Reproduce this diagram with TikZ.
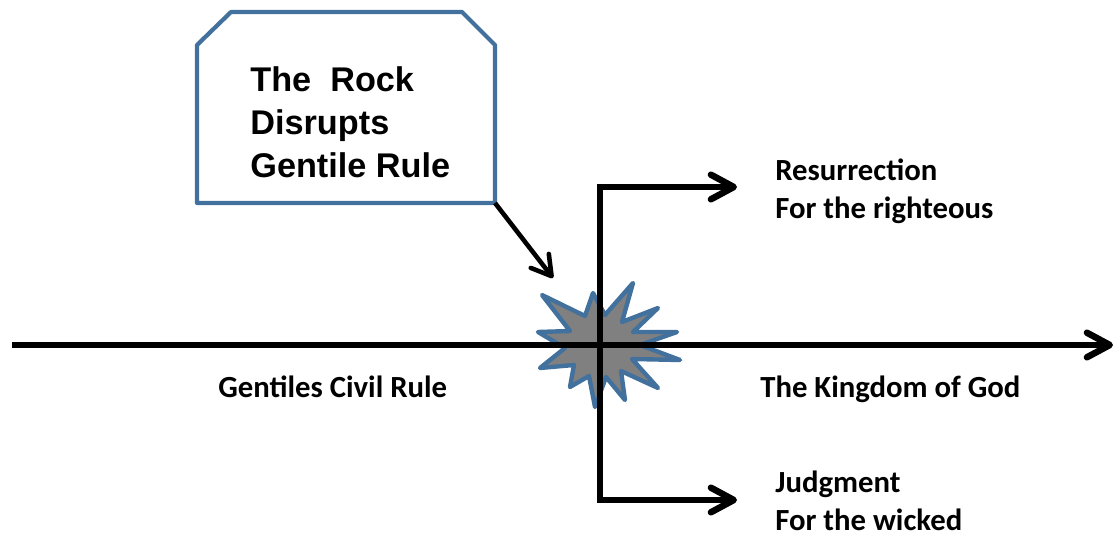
\documentclass[tikz,border=0pt]{standalone}
\usepackage{fontspec}
\setmainfont{Carlito}
\newfontfamily\boxfont{Liberation Sans}
\usepackage{tikz}
\usetikzlibrary{arrows.meta}
\definecolor{rockblue}{RGB}{65,113,156}
\definecolor{rockgray}{RGB}{128,128,128}

\begin{document}
\begin{tikzpicture}[x=0.02cm, y=-0.02cm]
    \tikzstyle{flow} = [line width=3.7pt, -{Straight Barb[length=13pt, width=14pt, round]}]
    \tikzstyle{hint} = [line width=2.6pt, -{Straight Barb[length=11pt, width=13pt, round]}]
    \tikzstyle{border} = [draw=rockblue, line width=2.4pt, line join=round, fill=white]
    \tikzstyle{tag} = [inner sep=0, align=left, font=\fontsize{17.5}{21.5}\selectfont\bfseries]
    \tikzstyle{boxtext} = [inner sep=0, align=left, anchor=west, font=\boxfont\fontsize{19.5}{24.5}\selectfont\bfseries]
    \useasboundingbox (0,0) rectangle (1117,537);

    \fill[rockgray, draw=rockblue, line width=2.5pt, line join=round]
        (542,295) -- (585,316) -- (593,293) -- (605,315) -- (633,283) -- (622,322)
        -- (658,308) -- (633,332) -- (677,332) -- (640,345) -- (680,360) -- (632,359)
        -- (658,388) -- (621,371) -- (625,400) -- (606,377) -- (595,407) -- (589,376)
        -- (570,387) -- (574,365) -- (540,368) -- (565,348) -- (538,332) -- (570,331) -- cycle;

    \coordinate (Hub) at (600,345);
    \coordinate (L) at (12,345);
    \coordinate (R) at (1113,345);
    \coordinate (Up) at (737,187);
    \coordinate (Down) at (737,500);
    \coordinate (Corner) at (495,203);
    \coordinate (Hit) at (553,278);

    \draw[border] (197,203) -- (197,45) -- (231,12) -- (462,12) -- (495,45) -- (Corner) -- cycle;
    \node[boxtext] (Box) at (250,122) {The\ \ Rock\\Disrupts\\Gentile Rule};

    \draw[flow] (L) -- (R);
    \draw[flow] (Hub) |- (Up);
    \draw[flow] (Hub) |- (Down);
    \draw[hint] (Corner) -- (Hit);

    \node[tag, anchor=base west] (Gentiles) at (218,398) {Gentiles Civil Rule};
    \node[tag, anchor=base west] (Kingdom) at (760,398) {The Kingdom of God};
    \node[tag, anchor=west] (Raise) at (775,191) {Resurrection\\For the righteous};
    \node[tag, anchor=west] (Judge) at (775,501) {Judgment\\For the wicked};
\end{tikzpicture}
\end{document}
